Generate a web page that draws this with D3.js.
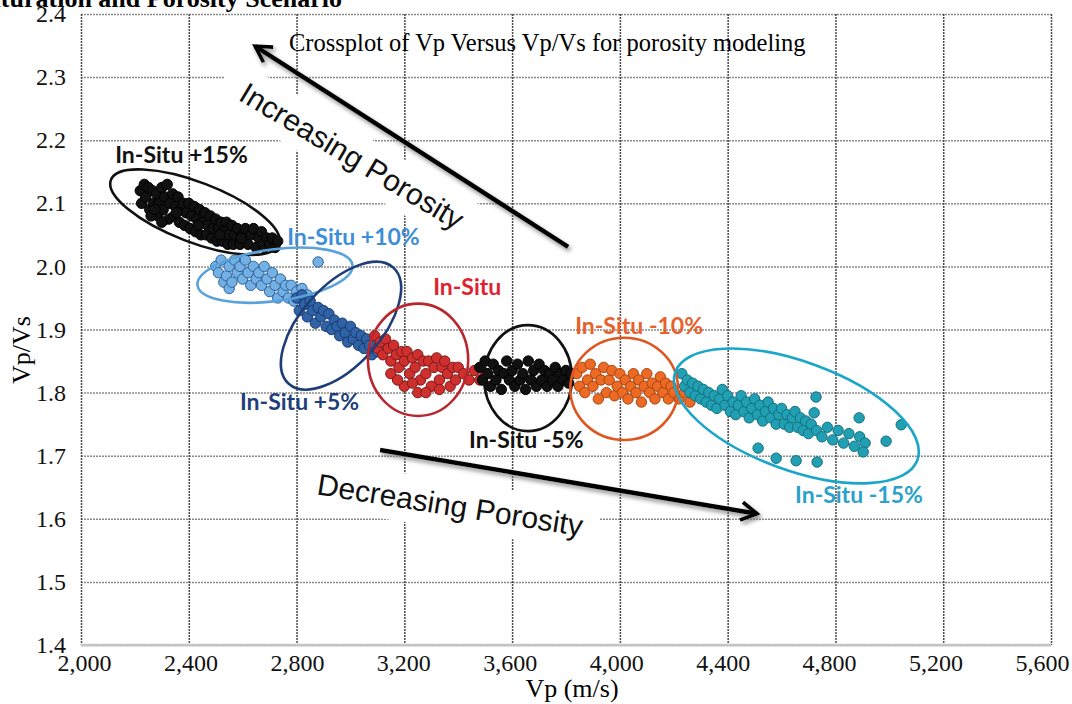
<!DOCTYPE html>
<html>
<head>
<meta charset="utf-8">
<script src="https://cdn.jsdelivr.net/npm/d3@7"></script>
<style>
body { margin:0; background:#fff; }
svg { display:block; }
.tick text { font-family: "Liberation Serif", "Times New Roman", serif; font-size: 24px; fill:#111; }
</style>
</head>
<body>
<div id="chart"></div>
<script>
const FRAME_WIDTH = 1072;
const FRAME_HEIGHT = 704;
const MARGINS = {left:81, right:21, top:14, bottom:59};
const VIS_WIDTH = FRAME_WIDTH - MARGINS.left - MARGINS.right;
const VIS_HEIGHT = FRAME_HEIGHT - MARGINS.top - MARGINS.bottom;

// axis ticks
const X_TICKS = [2000, 2400, 2800, 3200, 3600, 4000, 4400, 4800, 5200, 5600];
const Y_TICKS = [1.4, 1.5, 1.6, 1.7, 1.8, 1.9, 2.0, 2.1, 2.2, 2.3, 2.4];

// scenario names
const GROUPS = ["In-Situ +15%", "In-Situ +10%", "In-Situ +5%", "In-Situ", "In-Situ -5%", "In-Situ -10%", "In-Situ -15%"];

// [Vp, Vp/Vs], one list per scenario
const PTS_PLUS15 = [[2220,2.12],[2225,2.10],[2235,2.13],[2240,2.11],[2250,2.125],[2255,2.09],[2265,2.12],[2270,2.10],[2280,2.115],[2285,2.08],[2290,2.10],[2300,2.125],[2305,2.09],[2310,2.11],[2320,2.13],[2325,2.075],[2330,2.10],[2340,2.115],[2345,2.08],[2350,2.095],[2360,2.11],[2365,2.07],[2370,2.09],[2380,2.10],[2385,2.065],[2390,2.085],[2400,2.10],[2405,2.06],[2410,2.08],[2420,2.095],[2425,2.055],[2430,2.075],[2440,2.09],[2445,2.05],[2450,2.07],[2460,2.085],[2465,2.05],[2470,2.065],[2480,2.08],[2485,2.045],[2490,2.06],[2500,2.075],[2505,2.04],[2510,2.06],[2520,2.07],[2525,2.04],[2530,2.055],[2540,2.07],[2545,2.035],[2550,2.05],[2560,2.065],[2565,2.035],[2570,2.05],[2580,2.06],[2590,2.035],[2600,2.05],[2610,2.06],[2620,2.035],[2630,2.05],[2640,2.06],[2650,2.03],[2660,2.045],[2670,2.055],[2680,2.03],[2690,2.045],[2700,2.035],[2710,2.045],[2720,2.03],[2730,2.04],[2260,2.08],[2300,2.07],[2275,2.09],[2355,2.085],[2435,2.065],[2515,2.05],[2595,2.045]];
const PTS_PLUS10 = [[2500,2.00],[2510,1.99],[2520,2.01],[2530,1.975],[2540,1.985],[2550,2.00],[2550,1.965],[2560,1.975],[2570,2.01],[2580,1.99],[2590,2.00],[2600,1.98],[2610,2.01],[2620,1.99],[2630,1.97],[2640,2.00],[2650,1.98],[2660,1.99],[2670,1.97],[2680,2.00],[2690,1.98],[2700,1.96],[2710,1.99],[2720,1.97],[2730,1.95],[2740,1.98],[2750,1.96],[2760,1.97],[2770,1.95],[2780,1.97],[2790,1.945],[2800,1.96],[2810,1.95],[2820,1.965],[2830,1.94],[2840,1.955],[2850,1.945],[2860,1.935],[2880,2.007]];
const PTS_PLUS5 = [[2800,1.95],[2810,1.93],[2820,1.955],[2830,1.94],[2840,1.92],[2850,1.945],[2860,1.93],[2870,1.91],[2880,1.935],[2890,1.92],[2900,1.93],[2910,1.905],[2920,1.925],[2930,1.90],[2940,1.915],[2950,1.905],[2960,1.89],[2970,1.91],[2980,1.895],[2990,1.88],[3000,1.905],[3010,1.885],[3020,1.895],[3030,1.875],[3040,1.89],[3050,1.87],[3060,1.885],[3070,1.875],[3080,1.86],[3090,1.875],[3100,1.865],[3110,1.88],[3120,1.87]];
const PTS_INSITU = [[3090,1.89],[3100,1.87],[3110,1.88],[3120,1.86],[3130,1.885],[3140,1.87],[3150,1.85],[3150,1.83],[3160,1.875],[3170,1.86],[3180,1.84],[3190,1.865],[3200,1.85],[3200,1.81],[3210,1.865],[3220,1.83],[3230,1.855],[3240,1.84],[3250,1.86],[3250,1.80],[3260,1.82],[3270,1.85],[3280,1.83],[3290,1.85],[3300,1.81],[3310,1.84],[3320,1.855],[3330,1.82],[3340,1.84],[3350,1.85],[3360,1.83],[3370,1.81],[3380,1.84],[3390,1.82],[3400,1.84],[3420,1.83],[3440,1.82],[3460,1.835],[3480,1.82],[3500,1.83],[3175,1.82],[3230,1.815],[3280,1.80],[3330,1.805]];
const PTS_MINUS5 = [[3480,1.84],[3490,1.82],[3500,1.85],[3510,1.83],[3520,1.81],[3530,1.845],[3540,1.82],[3550,1.835],[3560,1.805],[3570,1.83],[3580,1.85],[3590,1.82],[3600,1.835],[3610,1.81],[3620,1.845],[3630,1.82],[3640,1.83],[3650,1.805],[3660,1.85],[3670,1.82],[3680,1.835],[3690,1.81],[3700,1.845],[3710,1.82],[3720,1.835],[3730,1.81],[3740,1.83],[3750,1.82],[3760,1.84],[3770,1.81],[3780,1.83],[3790,1.82],[3800,1.835],[3810,1.815],[3820,1.83]];
const PTS_MINUS10 = [[3840,1.83],[3850,1.81],[3860,1.84],[3870,1.80],[3880,1.82],[3890,1.845],[3900,1.81],[3910,1.83],[3920,1.79],[3930,1.82],[3940,1.84],[3950,1.80],[3960,1.82],[3970,1.835],[3980,1.795],[3990,1.81],[4000,1.83],[4010,1.80],[4020,1.82],[4030,1.79],[4040,1.81],[4050,1.83],[4060,1.80],[4070,1.82],[4080,1.785],[4090,1.81],[4100,1.83],[4110,1.80],[4120,1.815],[4130,1.79],[4140,1.81],[4150,1.825],[4160,1.80],[4170,1.815],[4180,1.79],[4190,1.81],[4200,1.80],[4220,1.79],[4240,1.80],[4260,1.785]];
const PTS_MINUS15 = [[4230,1.83],[4240,1.81],[4250,1.82],[4260,1.80],[4270,1.815],[4280,1.795],[4290,1.81],[4300,1.79],[4310,1.805],[4320,1.785],[4330,1.80],[4340,1.78],[4350,1.795],[4360,1.775],[4370,1.79],[4380,1.805],[4390,1.78],[4400,1.795],[4410,1.77],[4420,1.785],[4430,1.765],[4440,1.78],[4450,1.795],[4460,1.77],[4470,1.785],[4480,1.76],[4490,1.775],[4500,1.79],[4510,1.765],[4520,1.78],[4530,1.755],[4540,1.77],[4550,1.785],[4560,1.76],[4570,1.775],[4580,1.75],[4590,1.765],[4600,1.775],[4610,1.75],[4620,1.765],[4630,1.745],[4640,1.76],[4650,1.77],[4660,1.745],[4670,1.76],[4680,1.74],[4690,1.755],[4700,1.735],[4710,1.75],[4730,1.74],[4750,1.73],[4770,1.745],[4790,1.725],[4810,1.74],[4830,1.72],[4850,1.735],[4870,1.715],[4890,1.73],[4910,1.72],
  [4728,1.793],[4721,1.768],[4888,1.760],[5044,1.749],[4988,1.723],[4903,1.706],[4513,1.712],[4580,1.696],[4654,1.692],[4732,1.690]];
const POINT_SETS = [PTS_PLUS15, PTS_PLUS10, PTS_PLUS5, PTS_INSITU, PTS_MINUS5, PTS_MINUS10, PTS_MINUS15];

// ellipses round each scenario: centre [Vp, Vp/Vs], half widths in m/s and in Vp/Vs, tilt in degrees
const ELLIPSE_CENTERS = [[2423,2.086],[2720,1.986],[2965,1.906],[3251,1.852],[3659,1.823],[4016,1.806],[4655,1.763]];
const ELLIPSE_RX = [334, 290, 290, 186, 163, 200, 478];
const ELLIPSE_RY = [0.0475, 0.041, 0.063, 0.089, 0.084, 0.081, 0.086];
const ELLIPSE_TILT = [21, -7.5, -48, 0, 0, 0, 20];

// label anchors [Vp, Vp/Vs]
const LABEL_POS = [[2127,2.164],[2765,2.034],[2590,1.772],[3307,1.955],[3440,1.712],[3834,1.893],[4650,1.625]];

// arrows [from, to] in [Vp, Vp/Vs]
const ARROWS = [[[3808,2.031],[2646,2.349]], [[3110,1.709],[4509,1.608]]];
const ARROW_TEXT = ["Increasing Porosity", "Decreasing Porosity"];
const ARROW_TEXT_POS = [[3006,2.175],[3370,1.622]];
const ARROW_TEXT_TILT = [31, 9];

const POINT_FILL = ["#111111", "#74b1e2", "#2f63a6", "#cf302e", "#111111", "#ec6a24", "#21a0b4"];
const POINT_EDGE = ["#000000", "#2b62a3", "#183a72", "#7d1a1a", "#000000", "#a84612", "#14707f"];
const RING_COLOR = ["#111111", "#5aa2dc", "#1f3e78", "#b8262e", "#111111", "#e0561f", "#1aa6c8"];
const LABEL_COLOR = ["#111111", "#3d8ed6", "#1f3f7a", "#e0222f", "#111111", "#e8602a", "#2aa2c9"];

const X_SCALE = d3.scaleLinear().domain([2000, 5600]).range([MARGINS.left, MARGINS.left + VIS_WIDTH]);
const Y_SCALE = d3.scaleLinear().domain([1.4, 2.4]).range([MARGINS.top + VIS_HEIGHT, MARGINS.top]);
// tick labels in the picture sit a little off the grid lines
const X_LABEL_SCALE = d3.scaleLinear().domain([2000, 5600]).range([84, 1042]);

const svg = d3.select("#chart").append("svg")
    .attr("width", FRAME_WIDTH)
    .attr("height", FRAME_HEIGHT);

const defs = svg.append("defs");
defs.append("filter").attr("id", "shadow")
    .attr("x", "-20%").attr("y", "-20%").attr("width", "140%").attr("height", "140%")
  .append("feDropShadow")
    .attr("dx", 2).attr("dy", 3).attr("stdDeviation", 2)
    .attr("flood-color", "#777").attr("flood-opacity", 0.8);
defs.append("marker").attr("id", "head")
    .attr("viewBox", "0 0 10 10").attr("refX", 8).attr("refY", 5)
    .attr("markerWidth", 5).attr("markerHeight", 5).attr("orient", "auto")
  .append("path")
    .attr("d", "M1,1 L8,5 L1,9")
    .attr("fill", "none").attr("stroke", "#000").attr("stroke-width", 1.6)
    .attr("stroke-linejoin", "miter");

// cut-off figure caption at the very top
svg.append("text")
    .attr("x", 342).attr("y", 7)
    .attr("text-anchor", "end")
    .style("font-family", "'Liberation Serif', serif")
    .style("font-weight", "bold")
    .style("font-size", "26px")
    .text("Saturation and Porosity Scenario");

// horizontal grid
svg.append("g")
    .attr("class", "hgrid")
    .attr("transform", "translate(" + MARGINS.left + ",0)")
    .call(d3.axisLeft(Y_SCALE).tickValues(Y_TICKS).tickSize(-VIS_WIDTH).tickFormat(""))
    .call(g => g.select(".domain").remove())
    .selectAll("line")
      .attr("stroke", "#8a8a8a").attr("stroke-width", 1.5).attr("stroke-dasharray", "2,1");

// vertical grid
svg.append("g")
    .attr("class", "vgrid")
    .attr("transform", "translate(0," + MARGINS.top + ")")
    .call(d3.axisTop(X_SCALE).tickValues(X_TICKS).tickSize(-VIS_HEIGHT).tickFormat(""))
    .call(g => g.select(".domain").remove())
    .selectAll("line")
      .attr("stroke", "#4a4a4a").attr("stroke-width", 1.5).attr("stroke-dasharray", "2,1");

// bottom frame line is lighter and solid
svg.append("line")
    .attr("x1", X_SCALE(2000)).attr("x2", X_SCALE(5600))
    .attr("y1", Y_SCALE(1.4)).attr("y2", Y_SCALE(1.4))
    .attr("stroke", "#c4c4c4").attr("stroke-width", 2.5);

// white boxes behind the arrow captions
ARROW_TEXT.forEach((t, i) => {
  const cx = X_SCALE(ARROW_TEXT_POS[i][0]), cy = Y_SCALE(ARROW_TEXT_POS[i][1]);
  svg.append("rect")
      .attr("x", cx - 150).attr("y", cy - 24)
      .attr("width", 300).attr("height", 48)
      .attr("fill", "#fff")
      .attr("transform", "rotate(" + ARROW_TEXT_TILT[i] + "," + cx + "," + cy + ")");
});

// tick labels
svg.append("g")
    .attr("transform", "translate(0," + Y_SCALE(1.4) + ")")
    .call(d3.axisBottom(X_LABEL_SCALE).tickValues(X_TICKS).tickSize(0).tickPadding(9).tickFormat(d3.format(",")))
    .call(g => g.select(".domain").remove());

svg.append("g")
    .attr("transform", "translate(" + MARGINS.left + ",0)")
    .call(d3.axisLeft(Y_SCALE).tickValues(Y_TICKS).tickSize(0).tickPadding(15).tickFormat(d3.format(".1f")))
    .call(g => g.select(".domain").remove());

// axis titles
svg.append("text")
    .attr("x", 572).attr("y", 697)
    .attr("text-anchor", "middle")
    .style("font-family", "'Liberation Serif', serif")
    .style("font-size", "26px")
    .text("Vp (m/s)");

svg.append("text")
    .attr("transform", "translate(30,350) rotate(-90)")
    .attr("text-anchor", "middle")
    .style("font-family", "'Liberation Serif', serif")
    .style("font-size", "26px")
    .text("Vp/Vs");

// chart title inside the plot
svg.append("text")
    .attr("x", 289).attr("y", 51)
    .style("font-family", "'Liberation Serif', serif")
    .style("font-size", "24.5px")
    .text("Crossplot of Vp Versus Vp/Vs for porosity modeling");

// scatter clusters
POINT_SETS.forEach((pts, i) => {
  svg.append("g")
      .attr("class", "cluster")
    .selectAll("circle")
    .data(pts)
    .enter()
    .append("circle")
      .attr("cx", d => X_SCALE(d[0]))
      .attr("cy", d => Y_SCALE(d[1]))
      .attr("r", 5.2)
      .attr("fill", POINT_FILL[i])
      .attr("stroke", POINT_EDGE[i])
      .attr("stroke-width", 1);
});

// ellipses
ELLIPSE_CENTERS.forEach((c, i) => {
  const cx = X_SCALE(c[0]), cy = Y_SCALE(c[1]);
  const rx = X_SCALE(c[0] + ELLIPSE_RX[i]) - cx;
  const ry = cy - Y_SCALE(c[1] + ELLIPSE_RY[i]);
  svg.append("ellipse")
      .attr("cx", cx).attr("cy", cy)
      .attr("rx", rx).attr("ry", ry)
      .attr("transform", "rotate(" + ELLIPSE_TILT[i] + "," + cx + "," + cy + ")")
      .attr("fill", "none")
      .attr("stroke", RING_COLOR[i])
      .attr("stroke-width", 2.6);
});

// scenario labels
GROUPS.forEach((g, i) => {
  svg.append("text")
      .attr("x", X_SCALE(LABEL_POS[i][0]))
      .attr("y", Y_SCALE(LABEL_POS[i][1]))
      .style("font-family", "Lato, 'Open Sans', sans-serif")
      .style("font-weight", "bold")
      .style("font-size", "23px")
      .attr("fill", LABEL_COLOR[i])
      .text(g);
});

// arrows
ARROWS.forEach(a => {
  svg.append("line")
      .attr("x1", X_SCALE(a[0][0])).attr("y1", Y_SCALE(a[0][1]))
      .attr("x2", X_SCALE(a[1][0])).attr("y2", Y_SCALE(a[1][1]))
      .attr("stroke", "#000").attr("stroke-width", 4.5)
      .attr("marker-end", "url(#head)")
      .attr("filter", "url(#shadow)");
});

ARROW_TEXT.forEach((t, i) => {
  const cx = X_SCALE(ARROW_TEXT_POS[i][0]), cy = Y_SCALE(ARROW_TEXT_POS[i][1]);
  svg.append("text")
      .attr("x", cx).attr("y", cy)
      .attr("text-anchor", "middle")
      .attr("dominant-baseline", "central")
      .attr("transform", "rotate(" + ARROW_TEXT_TILT[i] + "," + cx + "," + cy + ")")
      .style("font-family", "'Liberation Sans', Arial, sans-serif")
      .style("font-size", "30px")
      .attr("fill", "#111")
      .text(t);
});
</script>
</body>
</html>
